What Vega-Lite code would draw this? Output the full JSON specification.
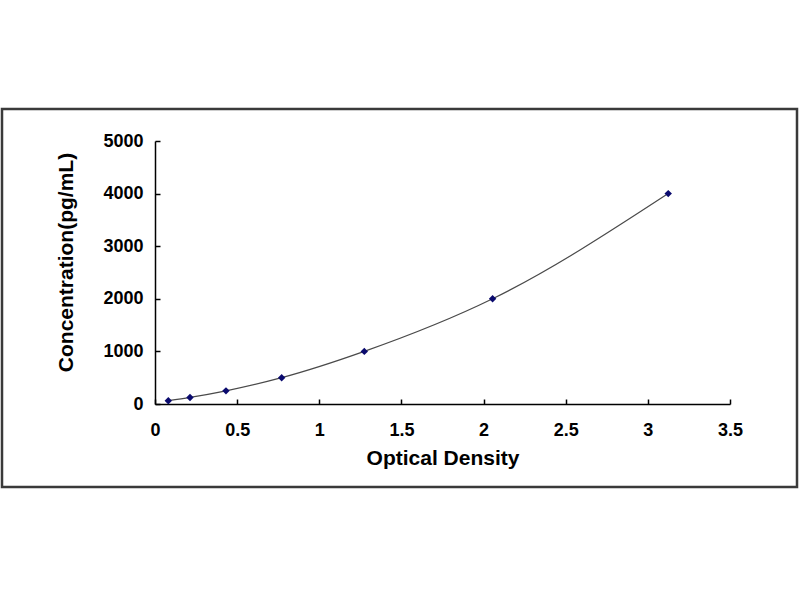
{
  "$schema": "https://vega.github.io/schema/vega-lite/v6.json",
  "autosize": "none",
  "padding": {"left": 2, "top": 109, "right": 3, "bottom": 113},
  "width": 795,
  "height": 378,
  "background": "white",
  "config": {
    "view": {"stroke": "#3a3a3a", "strokeWidth": 2.5},
    "font": "Liberation Sans"
  },
  "data": {
    "values": [
      {"od": 0.081, "conc": 62.5},
      {"od": 0.213, "conc": 125},
      {"od": 0.432, "conc": 250},
      {"od": 0.771, "conc": 500},
      {"od": 1.274, "conc": 1000},
      {"od": 2.055, "conc": 2000},
      {"od": 3.124, "conc": 4000}
    ]
  },
  "encoding": {
    "x": {
      "field": "od",
      "type": "quantitative",
      "title": "Optical Density",
      "scale": {"domain": [0, 3.5], "range": [153, 728], "nice": false},
      "axis": {
        "values": [0, 0.5, 1, 1.5, 2, 2.5, 3, 3.5],
        "format": "~g",
        "offset": -83,
        "grid": false,
        "domainColor": "black",
        "domainWidth": 1.5,
        "tickColor": "black",
        "tickWidth": 1.5,
        "tickSize": -5,
        "labelPadding": 22,
        "labelFont": "Liberation Sans",
        "labelFontWeight": "bold",
        "labelFontSize": 18,
        "labelColor": "black",
        "labelFlush": false,
        "titleFont": "Liberation Sans",
        "titleFontWeight": "bold",
        "titleFontSize": 21,
        "titleColor": "black",
        "titlePadding": 8
      }
    },
    "y": {
      "field": "conc",
      "type": "quantitative",
      "title": "Concentration(pg/mL)",
      "scale": {"domain": [0, 5000], "range": [295, 32], "nice": false},
      "axis": {
        "values": [0, 1000, 2000, 3000, 4000, 5000],
        "format": "d",
        "offset": -153,
        "grid": false,
        "domainColor": "black",
        "domainWidth": 1.5,
        "tickColor": "black",
        "tickWidth": 1.5,
        "tickSize": -5,
        "labelPadding": 17,
        "labelFont": "Liberation Sans",
        "labelFontWeight": "bold",
        "labelFontSize": 18,
        "labelColor": "black",
        "labelFlush": false,
        "titleFont": "Liberation Sans",
        "titleFontWeight": "bold",
        "titleFontSize": 21,
        "titleColor": "black",
        "titlePadding": 26,
        "titleY": 153
      }
    }
  },
  "layer": [
    {
      "mark": {"type": "line", "interpolate": "monotone", "color": "#4a4a4a", "strokeWidth": 1.2}
    },
    {
      "mark": {"type": "point", "shape": "diamond", "filled": true, "color": "#0a0a6e", "size": 55, "opacity": 1}
    }
  ]
}
